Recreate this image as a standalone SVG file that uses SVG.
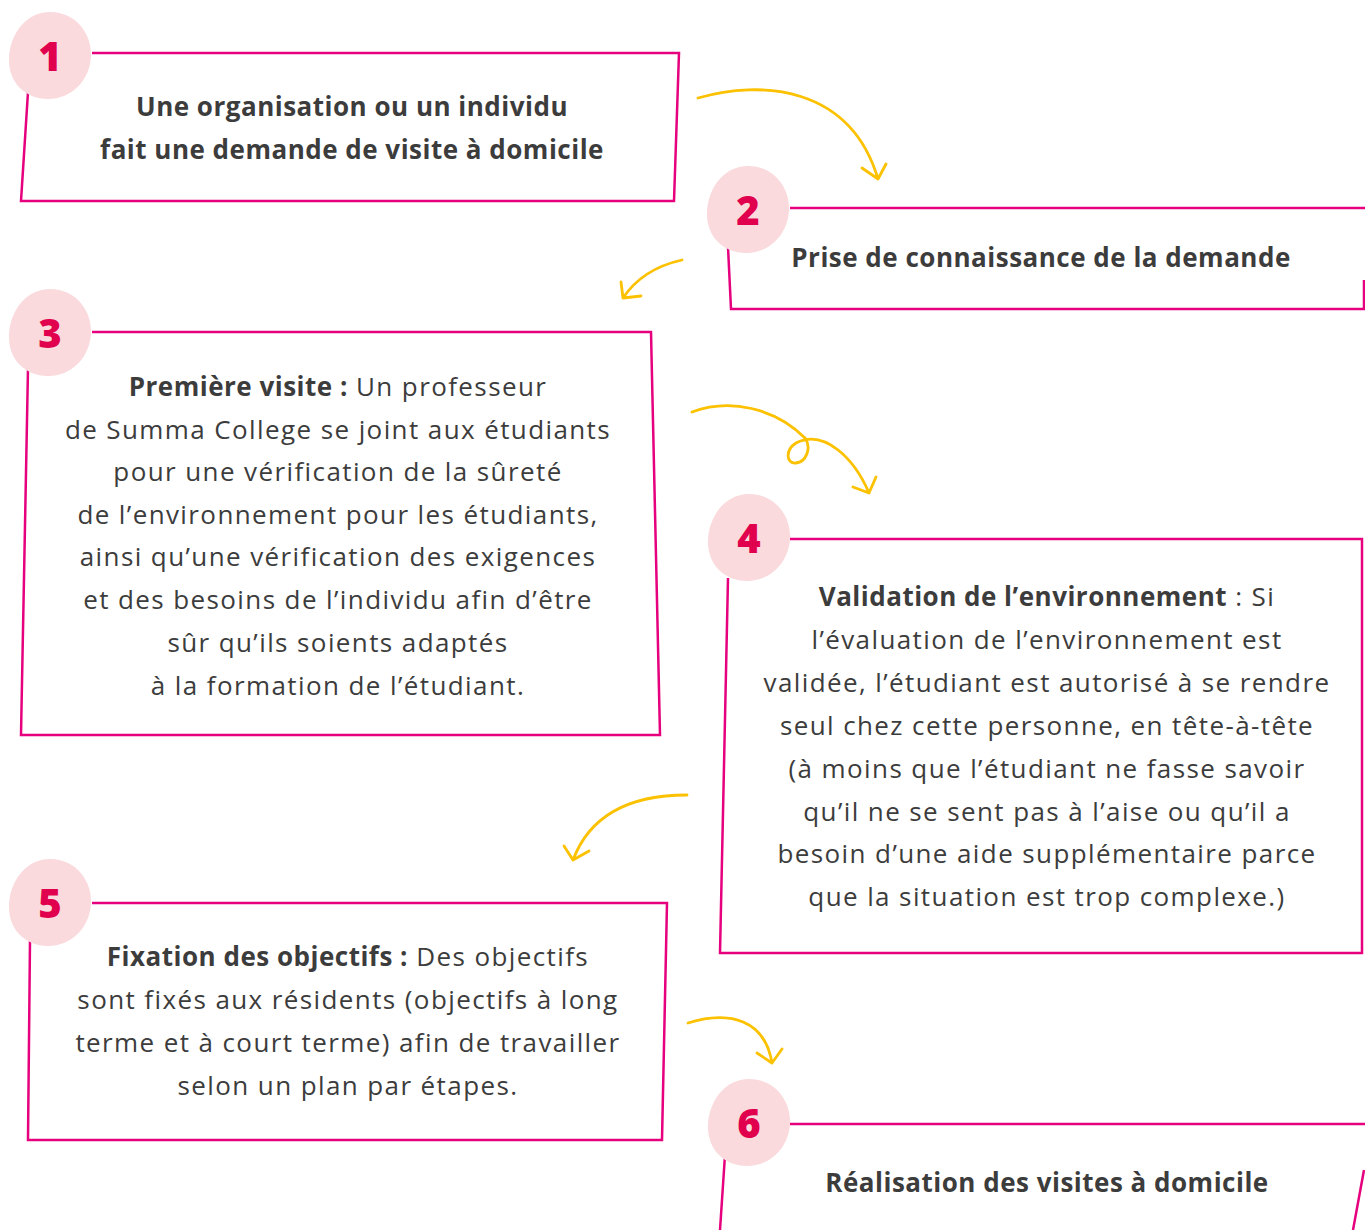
<svg xmlns="http://www.w3.org/2000/svg" width="1365" height="1230" viewBox="0 0 1365 1230">
<defs>
<style>
.box{fill:none;stroke:#e6007e;stroke-width:2.5;stroke-linejoin:miter}
.arr{fill:none;stroke:#fcc100;stroke-width:2.8;stroke-linecap:round;stroke-linejoin:round}
.blob{fill:#fadadd}
.num{font-family:"Open Sans","Liberation Sans",sans-serif;font-weight:800;font-size:40px;fill:#e0004d;text-anchor:middle}
.t{font-family:"Open Sans","Liberation Sans",sans-serif;font-size:26px;letter-spacing:1.4px;fill:#3c3c3c;text-anchor:middle}
.b{font-weight:700;letter-spacing:0.5px}
</style>
<path id="blob" d="M0,-44 C26,-44 42,-22 41,0 C40,24 22,43 -2,43 C-25,43 -42,26 -41,2 C-40,-22 -24,-44 0,-44 Z"/>
</defs>
<rect width="1365" height="1230" fill="#ffffff"/>
<g id="connectors">
<path class="arr" d="M698,98 C760,80 850,85 878,179 M862,168 L878,179 L886,164"/>
<path class="arr" d="M682,260 C655,266 635,280 623,298 M621,282 L623,298 L641,296"/>
<path class="arr" d="M692,412 C730,398 775,408 805,438 C812,448 806,462 796,463 C786,464 785,450 796,443 C825,428 855,460 869,493 M853,487 L869,493 L876,477"/>
<path class="arr" d="M687,795 C630,795 590,815 573,860 M564,846 L573,860 L589,851"/>
<path class="arr" d="M688,1023 C730,1010 765,1020 772,1063 M757,1053 L772,1063 L782,1049"/>
</g>
<g id="node1">
<path class="box" d="M92,53 L679,53 L674,201 L21,201 L28,92"/>
<use href="#blob" class="blob" x="50" y="56"/>
<text class="num" x="50" y="71">1</text>
<text class="t b" x="352" y="116">Une organisation ou un individu</text>
<text class="t b" x="352" y="159">fait une demande de visite à domicile</text>
</g>
<g id="node2">
<path class="box" d="M790,208 L1365,208 M1364,280 L1364,309 L731,309 L728,247"/>
<use href="#blob" class="blob" x="748" y="210"/>
<text class="num" x="748" y="225">2</text>
<text class="t b" x="1041" y="267">Prise de connaissance de la demande</text>
</g>
<g id="node3">
<path class="box" d="M92,332 L651,332 L660,735 L21,735 L28,368"/>
<use href="#blob" class="blob" x="50" y="333"/>
<text class="num" x="50" y="348">3</text>
<text class="t" x="338" y="396"><tspan class="b">Première visite :</tspan> Un professeur</text>
<text class="t" x="338" y="439">de Summa College se joint aux étudiants</text>
<text class="t" x="338" y="481">pour une vérification de la sûreté</text>
<text class="t" x="338" y="524">de l’environnement pour les étudiants,</text>
<text class="t" x="338" y="566">ainsi qu’une vérification des exigences</text>
<text class="t" x="338" y="609">et des besoins de l’individu afin d’être</text>
<text class="t" x="338" y="652">sûr qu’ils soients adaptés</text>
<text class="t" x="338" y="695">à la formation de l’étudiant.</text>
</g>
<g id="node4">
<path class="box" d="M790,539 L1362,539 L1362,953 L720,953 L728,578"/>
<use href="#blob" class="blob" x="749" y="538"/>
<text class="num" x="749" y="553">4</text>
<text class="t" x="1047" y="606"><tspan class="b">Validation de l’environnement</tspan> : Si</text>
<text class="t" x="1047" y="649">l’évaluation de l’environnement est</text>
<text class="t" x="1047" y="692">validée, l’étudiant est autorisé à se rendre</text>
<text class="t" x="1047" y="735">seul chez cette personne, en tête-à-tête</text>
<text class="t" x="1047" y="778">(à moins que l’étudiant ne fasse savoir</text>
<text class="t" x="1047" y="821">qu’il ne se sent pas à l’aise ou qu’il a</text>
<text class="t" x="1047" y="863">besoin d’une aide supplémentaire parce</text>
<text class="t" x="1047" y="906">que la situation est trop complexe.)</text>
</g>
<g id="node5">
<path class="box" d="M92,903 L667,903 L662,1140 L28,1140 L30,940"/>
<use href="#blob" class="blob" x="50" y="903"/>
<text class="num" x="50" y="918">5</text>
<text class="t" x="348" y="966"><tspan class="b">Fixation des objectifs :</tspan> Des objectifs</text>
<text class="t" x="348" y="1009">sont fixés aux résidents (objectifs à long</text>
<text class="t" x="348" y="1052">terme et à court terme) afin de travailler</text>
<text class="t" x="348" y="1095">selon un plan par étapes.</text>
</g>
<g id="node6">
<path class="box" d="M790,1124 L1365,1124 M1364,1170 L1353,1230 M720,1230 L725,1155"/>
<use href="#blob" class="blob" x="749" y="1123"/>
<text class="num" x="749" y="1138">6</text>
<text class="t b" x="1047" y="1192">Réalisation des visites à domicile</text>
</g>
</svg>
